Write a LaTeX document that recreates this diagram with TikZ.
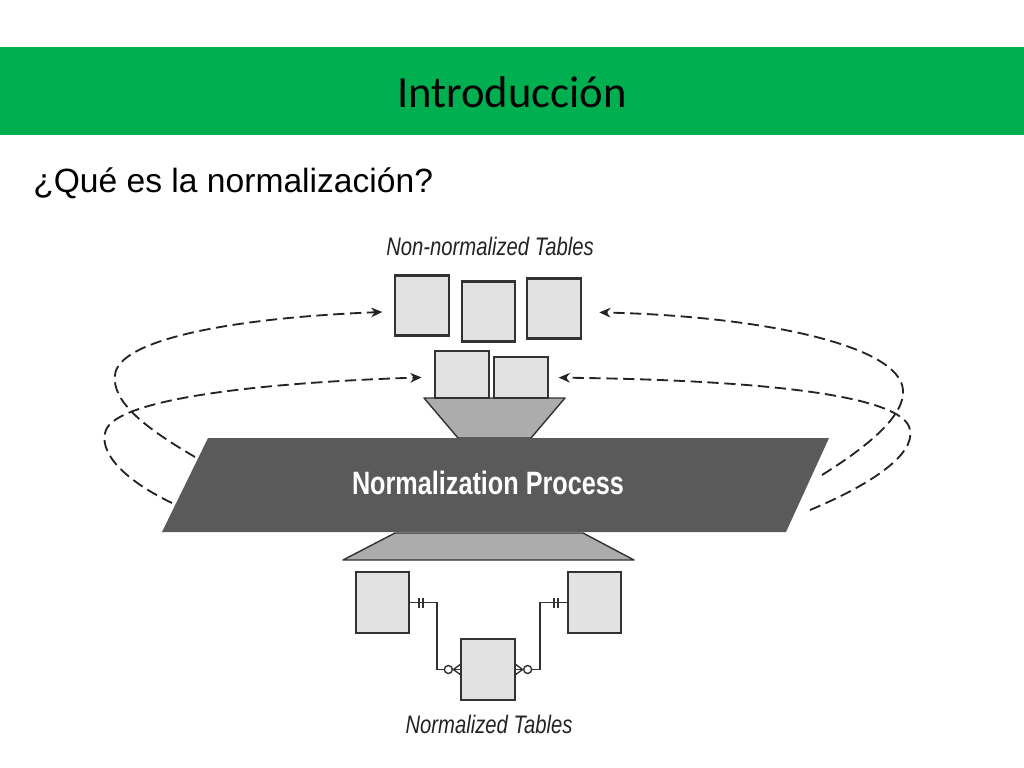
\documentclass[tikz,border=0pt]{standalone}
\usepackage{fontspec}
\setmainfont{Liberation Sans}
\newfontfamily\titlefont{Carlito}
\newfontfamily\narrowfont[FakeStretch=0.8]{Liberation Sans}
\newfontfamily\procfont[FakeStretch=0.78]{Liberation Sans}
\usetikzlibrary{arrows.meta,positioning,calc}
\usepackage{xcolor}
\definecolor{SlideGreen}{RGB}{0,176,80}
\definecolor{TableFill}{RGB}{226,226,226}
\definecolor{TableEdge}{RGB}{50,50,50}
\definecolor{FunnelGray}{RGB}{172,172,172}
\definecolor{ProcGray}{RGB}{90,90,90}
\definecolor{InkGray}{RGB}{35,35,35}
\tikzset{
  tbl/.style={draw=TableEdge, fill=TableFill, line width=1.5pt,
    inner sep=0pt, minimum width=1.33cm, minimum height=1.5cm},
  funnel/.style={draw=TableEdge, fill=FunnelGray, line width=1pt,
    line join=round},
  backflow/.style={InkGray, line width=1.3pt, dash pattern=on 8pt off 4pt,
    -{Stealth[length=0.28cm,width=0.24cm]}},
  relation/.style={TableEdge, line width=1pt},
  tag/.style={font=\narrowfont\itshape\fontsize{18}{21}\selectfont,
    text=InkGray, anchor=base}
}

\begin{document}
\begin{tikzpicture}[x=0.025cm, y=-0.025cm]
  \useasboundingbox (0,0) rectangle (1024,768);
  \fill[white] (0,0) rectangle (1024,768);
  % slide header
  \fill[SlideGreen] (0,47) rectangle (1024,135);
  \node[font=\titlefont\fontsize{31.7}{36}\selectfont, anchor=base]
    (title) at (512,108) {Introducción};
  \node[font=\fontsize{23.9}{28}\selectfont, anchor=base west, inner sep=0pt]
    (question) at (33,192) {¿Qué es la normalización?};

  % funnels and process band
  \draw[funnel] (424,398) -- (565,398) -- (531,438) -- (458,438) -- cycle;
  \draw[funnel] (395,533) -- (583,533) -- (634,560) -- (343,560) -- cycle;
  \fill[ProcGray] (208,438) -- (829,438) -- (786,532) -- (162,532) -- cycle;
  \node[font=\procfont\bfseries\fontsize{23}{26}\selectfont, text=white,
    anchor=base] (proc) at (488,494) {Normalization Process};

  % non-normalized tables
  \node[tag] (toplabel) at (490,255) {Non-normalized Tables};
  \node[tbl] (b1) at (422,305.5) {};
  \node[tbl] (b2) at (488.5,311.5) {};
  \node[tbl] (b3) at (554,308.5) {};
  \node[tbl, minimum height=1.18cm] (b4) at (462,374.5) {};
  \node[tbl, minimum height=1.03cm] (b5) at (521,377.5) {};

  % normalized tables
  \node[tbl, minimum height=1.53cm] (lt) at (382.5,602.5) {};
  \node[tbl, minimum height=1.53cm] (rt) at (594.5,602.5) {};
  \node[tbl, minimum height=1.53cm] (mid) at (488,669.5) {};
  \node[tag] (botlabel) at (489,733) {Normalized Tables};

  % relations
  \draw[relation] (lt.east) -- ++(27,0) |- (mid.west);
  \draw[relation] (rt.west) -- ++(-27,0) |- (mid.east);
  \draw[relation] ($(lt.east)+(9,-5)$) -- ++(0,10);
  \draw[relation] ($(lt.east)+(13,-5)$) -- ++(0,10);
  \draw[relation] ($(rt.west)+(-9,-5)$) -- ++(0,10);
  \draw[relation] ($(rt.west)+(-13,-5)$) -- ++(0,10);
  \draw[relation] ($(mid.west)+(0,-5)$) -- ++(-7,5) -- ++(7,5);
  \draw[relation] ($(mid.east)+(0,-5)$) -- ++(7,5) -- ++(-7,5);
  \draw[relation, fill=white] ($(mid.west)+(-12,0)$) circle (0.1cm);
  \draw[relation, fill=white] ($(mid.east)+(12,0)$) circle (0.1cm);

  % feedback loops
  \coordinate (outL) at (195,457);
  \coordinate (inL) at (172,503);
  \coordinate (outR) at (822,475);
  \coordinate (inR) at (810,510);
  \draw[backflow, shorten >=0.3cm] (outL) .. controls (140,425) and (112,400) .. (115,375)
    .. controls (118,340) and (230,318) .. ($(b1.west)+(0,6)$);
  \draw[backflow, shorten >=0.32cm] (inL) .. controls (120,478) and (98,450) .. (106,430)
    .. controls (118,400) and (250,383) .. ($(b4.west)+(0,2.5)$);
  \draw[backflow, shorten >=0.44cm] (outR) .. controls (870,445) and (905,415) .. (903,390)
    .. controls (900,345) and (760,316) .. ($(b3.east)+(0,3.5)$);
  \draw[backflow, shorten >=0.25cm] (inR) .. controls (870,485) and (915,455) .. (910,430)
    .. controls (905,395) and (760,380) .. ($(b5.east)+(0,0)$);
\end{tikzpicture}
\end{document}
